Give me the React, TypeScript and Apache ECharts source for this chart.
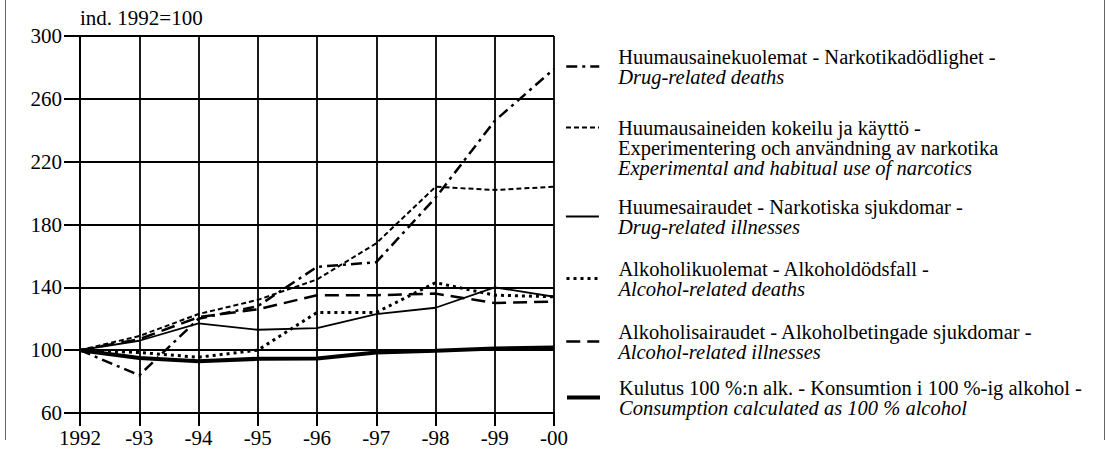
import React, { useEffect, useRef } from 'react';
import * as echarts from 'echarts';

const years = ['1992', '-93', '-94', '-95', '-96', '-97', '-98', '-99', '-00'];

const drugDeaths = [100, 84, 120, 128, 153, 156, 197, 246, 279];
const drugUse = [100, 109, 123, 132, 145, 168, 204, 202, 204];
const drugIllness = [100, 106, 117, 113, 114, 123, 127, 140, 134];
const alcoholDeaths = [100, 98.5, 95.5, 100, 124, 124, 143, 135, 134];
const alcoholIllness = [100, 107, 121, 126, 135, 135, 136, 130, 131];
const consumption = [100, 95, 93, 94.5, 94.7, 98.5, 99.6, 101, 101.7];

const seriesNames = [
  ['Huumausainekuolemat - Narkotikadödlighet -', 'Drug-related deaths'],
  [
    'Huumausaineiden kokeilu ja käyttö -',
    'Experimentering och användning av narkotika',
    'Experimental and habitual use of narcotics',
  ],
  ['Huumesairaudet - Narkotiska sjukdomar -', 'Drug-related illnesses'],
  ['Alkoholikuolemat - Alkoholdödsfall -', 'Alcohol-related deaths'],
  ['Alkoholisairaudet - Alkoholbetingade sjukdomar -', 'Alcohol-related illnesses'],
  ['Kulutus 100 %:n alk. - Konsumtion i 100 %-ig alkohol -', 'Consumption calculated as 100 % alcohol'],
];

const seriesData = [drugDeaths, drugUse, drugIllness, alcoholDeaths, alcoholIllness, consumption];

const lineStyles: any[] = [
  { type: [11, 5, 3, 5], width: 2.5 },
  { type: [5, 3], width: 2 },
  { type: 'solid', width: 1.8 },
  { type: [3, 4], width: 3 },
  { type: [14, 7], width: 2.5 },
  { type: 'solid', width: 4 },
];

const legendSampleY = [66, 127, 216, 278, 341, 397];
const FONT = 'Liberation Serif';
const FS = 20.5;
const LH = 20;

export default function App() {
  const ref = useRef<HTMLDivElement>(null);
  useEffect(() => {
    const chart = echarts.init(ref.current!, null, { renderer: 'svg' });
    const names = seriesNames.map((l) => l.join('\n'));
    const legends = names.map((name, idx) => {
      const nLines = seriesNames[idx].length;
      const iconAtTop = idx === 1;
      const totalLines = iconAtTop ? nLines + 2 : nLines;
      const top = legendSampleY[idx] - (LH * totalLines) / 2;
      return {
        data: [name],
        left: 565,
        top,
        orient: 'vertical',
        padding: 0,
        itemGap: 0,
        itemWidth: 33,
        itemHeight: 14,
        selectedMode: false,
        itemStyle: { opacity: 0 },
        lineStyle: { color: '#000', width: lineStyles[idx].width, type: lineStyles[idx].type },
        formatter: (nm: string) => {
          const ls = nm.split('\n');
          const parts = ls.map((l, k) => (k === ls.length - 1 ? `{i|${l}}` : `{n|${l}}`));
          if (iconAtTop) {
            return ['{s| }', '{s| }', ...parts].join('\n');
          }
          return parts.join('\n');
        },
        textStyle: {
          fontFamily: FONT,
          fontSize: FS,
          color: '#000',
          rich: {
            n: { fontFamily: FONT, fontSize: FS, lineHeight: LH, color: '#000', padding: [0, 0, 0, 14] },
            i: {
              fontFamily: FONT,
              fontSize: FS,
              lineHeight: LH,
              color: '#000',
              fontStyle: 'italic',
              padding: [0, 0, 0, 14],
            },
            s: { fontFamily: FONT, fontSize: FS, lineHeight: LH, color: '#000' },
          },
        },
      };
    });

    const option: any = {
      animation: false,
      backgroundColor: '#fff',
      grid: { left: 80, right: 552, top: 36, bottom: 48, containLabel: false },
      legend: legends,
      xAxis: {
        type: 'category',
        data: years,
        boundaryGap: false,
        axisLine: { show: true, lineStyle: { color: '#000', width: 2 } },
        axisTick: { show: true, length: 13, inside: false, lineStyle: { color: '#000', width: 2 } },
        axisLabel: { color: '#000', fontFamily: FONT, fontSize: 21, margin: 14, interval: 0 },
        splitLine: { show: true, lineStyle: { color: '#000', width: 1.8 } },
      },
      yAxis: {
        type: 'value',
        min: 60,
        max: 300,
        interval: 40,
        name: 'ind. 1992=100',
        nameLocation: 'end',
        nameGap: 18,
        nameTextStyle: {
          color: '#000',
          fontFamily: FONT,
          fontSize: 21,
          align: 'left',
          verticalAlign: 'middle',
        },
        axisLine: { show: true, lineStyle: { color: '#000', width: 2 } },
        axisTick: { show: true, length: 16, lineStyle: { color: '#000', width: 2 } },
        axisLabel: { color: '#000', fontFamily: FONT, fontSize: 21, margin: 18 },
        splitLine: { show: true, lineStyle: { color: '#000', width: 1.8 } },
      },
      graphic: [
        { type: 'line', shape: { x1: 5.5, y1: 0, x2: 5.5, y2: 440 }, style: { stroke: '#666', lineWidth: 1 } },
        { type: 'line', shape: { x1: 1104.5, y1: 0, x2: 1104.5, y2: 440 }, style: { stroke: '#666', lineWidth: 1 } },
      ],
      series: names.map((name, idx) => ({
        type: 'line',
        name,
        data: seriesData[idx],
        symbol: 'none',
        showSymbol: false,
        lineStyle: { color: '#000', width: lineStyles[idx].width, type: lineStyles[idx].type },
        itemStyle: { color: '#000' },
        z: 3,
      })),
    };
    chart.setOption(option);
    return () => chart.dispose();
  }, []);
  return (
    <div
      ref={ref}
      style={{ position: 'absolute', left: 0, top: 0, width: 1106, height: 461, background: '#fff' }}
    />
  );
}
